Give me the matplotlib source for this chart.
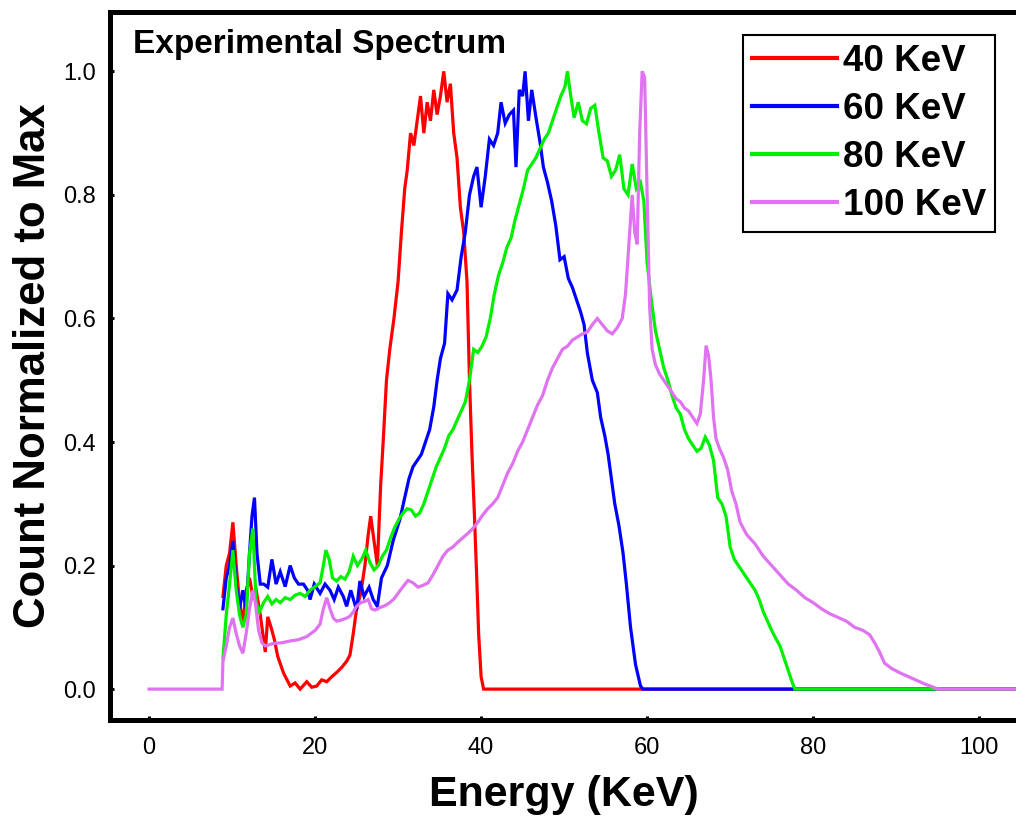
import matplotlib
matplotlib.use("Agg")
import matplotlib.pyplot as plt

plt.rcParams["font.family"] = ["Liberation Sans", "DejaVu Sans"]

# 40 keV tube spectrum
energy_40 = [8.9, 9.3, 9.7, 10.1, 10.5, 10.9, 11.3, 11.7, 12.1, 12.5, 12.9, 13.4,
             13.7, 14.0, 14.3, 14.7, 15.1, 15.5, 16.2, 17.0, 17.6, 18.2, 19.0, 19.6,
             20.2, 20.8, 21.4, 22.0, 22.6, 23.2, 23.8, 24.2, 24.6, 25.0, 25.5, 26.0,
             26.4, 26.7, 27.1, 27.5, 27.9, 28.2, 28.6, 29.0, 29.5, 30.0, 30.4, 30.8,
             31.1, 31.5, 31.9, 32.3, 32.7, 33.1, 33.5, 33.9, 34.3, 34.7, 35.1, 35.5,
             35.9, 36.3, 36.7, 37.1, 37.5, 37.9, 38.3, 38.6, 38.9, 39.2, 39.5, 39.7,
             40.0, 40.3, 105.0]
count_40 = [0.15, 0.20, 0.22, 0.27, 0.20, 0.14, 0.107, 0.16, 0.18, 0.15, 0.16, 0.12,
            0.09, 0.06, 0.117, 0.10, 0.08, 0.053, 0.026, 0.005, 0.01, 0.0, 0.012, 0.003,
            0.005, 0.015, 0.012, 0.02, 0.027, 0.035, 0.045, 0.055, 0.09, 0.13, 0.155, 0.20,
            0.25, 0.28, 0.24, 0.20, 0.33, 0.40, 0.50, 0.55, 0.60, 0.66, 0.74, 0.81,
            0.84, 0.90, 0.88, 0.92, 0.96, 0.90, 0.95, 0.92, 0.97, 0.93, 0.96, 1.0,
            0.95, 0.98, 0.90, 0.86, 0.78, 0.74, 0.66, 0.50, 0.38, 0.28, 0.17, 0.09,
            0.02, 0.0, 0.0]

# 60 keV tube spectrum
energy_60 = [8.9, 9.3, 9.7, 10.1, 10.5, 10.9, 11.3, 11.7, 12.1, 12.4, 12.7, 13.0,
             13.4, 13.8, 14.3, 14.8, 15.3, 15.8, 16.4, 17.0, 17.5, 18.0, 18.6, 19.1,
             19.4, 19.9, 20.6, 21.2, 21.8, 22.3, 22.8, 23.4, 23.8, 24.3, 25.0, 25.4,
             25.9, 26.5, 27.0, 27.5, 28.0, 28.7, 29.4, 30.2, 30.8, 31.3, 31.8, 32.3,
             32.8, 33.3, 33.8, 34.3, 34.7, 35.1, 35.6, 36.0, 36.5, 37.1, 37.6, 38.1,
             38.6, 39.1, 39.5, 40.0, 40.5, 41.0, 41.5, 42.0, 42.4, 42.9, 43.4, 43.9,
             44.2, 44.6, 45.0, 45.3, 45.7, 46.1, 46.6, 47.1, 47.5, 48.0, 48.5, 49.0,
             49.5, 50.0, 50.5, 51.0, 51.5, 52.0, 52.4, 52.8, 53.4, 54.0, 54.4, 54.9,
             55.3, 55.7, 56.1, 56.6, 57.1, 57.5, 58.0, 58.6, 59.2, 59.5, 105.0]
count_60 = [0.13, 0.18, 0.20, 0.24, 0.17, 0.13, 0.16, 0.13, 0.22, 0.28, 0.31, 0.22,
            0.17, 0.17, 0.165, 0.21, 0.17, 0.19, 0.166, 0.20, 0.18, 0.17, 0.17, 0.16,
            0.145, 0.17, 0.155, 0.17, 0.16, 0.145, 0.165, 0.15, 0.134, 0.16, 0.128, 0.175,
            0.15, 0.165, 0.145, 0.134, 0.18, 0.20, 0.24, 0.274, 0.31, 0.34, 0.36, 0.37,
            0.38, 0.40, 0.42, 0.457, 0.50, 0.535, 0.56, 0.64, 0.63, 0.646, 0.70, 0.74,
            0.80, 0.83, 0.845, 0.78, 0.83, 0.89, 0.88, 0.90, 0.95, 0.916, 0.93, 0.937,
            0.845, 0.97, 0.96, 1.0, 0.92, 0.97, 0.926, 0.885, 0.845, 0.82, 0.79, 0.75,
            0.695, 0.70, 0.665, 0.65, 0.63, 0.61, 0.59, 0.544, 0.50, 0.48, 0.44, 0.41,
            0.38, 0.34, 0.30, 0.265, 0.22, 0.17, 0.10, 0.04, 0.005, 0.0, 0.0]

# 80 keV tube spectrum
energy_80 = [8.9, 9.3, 9.7, 10.1, 10.5, 10.9, 11.3, 11.7, 12.1, 12.5, 12.9, 13.3,
             13.8, 14.3, 14.8, 15.3, 15.8, 16.4, 17.0, 17.6, 18.2, 18.8, 19.4, 20.0,
             20.6, 21.0, 21.3, 21.7, 22.1, 22.6, 23.1, 23.6, 24.1, 24.6, 25.1, 25.6,
             26.1, 26.6, 27.1, 27.6, 28.1, 28.6, 29.1, 29.6, 30.1, 30.6, 31.1, 31.6,
             32.1, 32.6, 33.1, 33.6, 34.1, 34.6, 35.1, 35.6, 36.1, 36.6, 37.1, 37.6,
             38.1, 38.6, 39.1, 39.6, 40.1, 40.6, 41.1, 41.6, 42.1, 42.6, 43.1, 43.6,
             44.1, 44.6, 45.1, 45.6, 46.1, 46.6, 47.1, 47.6, 48.1, 48.6, 49.1, 49.6,
             50.1, 50.4, 50.8, 51.2, 51.7, 52.2, 52.7, 53.2, 53.7, 54.2, 54.7, 55.2,
             55.7, 56.2, 56.7, 57.2, 57.7, 58.2, 58.7, 59.2, 59.6, 60.0, 60.5, 61.0,
             61.5, 62.0, 62.5, 63.0, 63.5, 64.0, 64.5, 65.0, 65.5, 66.0, 66.5, 67.0,
             67.5, 68.0, 68.5, 69.0, 69.5, 70.0, 70.5, 71.0, 71.5, 72.0, 72.5, 73.0,
             73.5, 74.0, 74.5, 75.0, 75.5, 76.0, 76.5, 77.0, 77.5, 77.8, 105.0]
count_80 = [0.05, 0.12, 0.17, 0.225, 0.16, 0.12, 0.10, 0.12, 0.22, 0.26, 0.14, 0.125,
            0.14, 0.15, 0.138, 0.145, 0.14, 0.148, 0.145, 0.152, 0.155, 0.15, 0.16, 0.166,
            0.172, 0.20, 0.225, 0.21, 0.18, 0.175, 0.182, 0.178, 0.19, 0.215, 0.20, 0.21,
            0.225, 0.205, 0.193, 0.20, 0.215, 0.225, 0.245, 0.262, 0.275, 0.285, 0.292, 0.29,
            0.28, 0.285, 0.30, 0.32, 0.34, 0.36, 0.375, 0.39, 0.41, 0.42, 0.435, 0.45,
            0.465, 0.50, 0.55, 0.545, 0.555, 0.57, 0.60, 0.64, 0.67, 0.69, 0.715, 0.73,
            0.76, 0.785, 0.81, 0.84, 0.85, 0.86, 0.875, 0.89, 0.90, 0.92, 0.94, 0.96,
            0.975, 1.0, 0.96, 0.925, 0.95, 0.92, 0.915, 0.94, 0.945, 0.90, 0.86, 0.855,
            0.83, 0.84, 0.865, 0.81, 0.80, 0.85, 0.81, 0.82, 0.79, 0.69, 0.63, 0.58,
            0.55, 0.52, 0.50, 0.475, 0.455, 0.445, 0.42, 0.405, 0.395, 0.385, 0.39, 0.408,
            0.395, 0.37, 0.31, 0.30, 0.28, 0.23, 0.21, 0.20, 0.19, 0.18, 0.17, 0.16,
            0.145, 0.125, 0.11, 0.095, 0.082, 0.07, 0.05, 0.03, 0.01, 0.0, 0.0]

# 100 keV tube spectrum
energy_100 = [0.0, 8.8, 8.9, 9.3, 9.7, 10.1, 10.5, 10.9, 11.3, 11.7, 12.1, 12.5,
              12.8, 13.2, 13.6, 14.0, 15.0, 16.0, 17.0, 18.0, 19.0, 19.5, 20.0, 20.6,
              21.0, 21.4, 21.8, 22.2, 22.6, 23.2, 23.8, 24.2, 24.6, 25.0, 25.5, 26.0,
              26.4, 26.8, 27.2, 27.8, 28.4, 29.0, 29.5, 30.0, 30.6, 31.2, 31.8, 32.4,
              33.0, 33.6, 34.2, 34.8, 35.4, 36.0, 36.6, 37.2, 37.8, 38.4, 39.0, 39.6,
              40.2, 40.8, 41.4, 42.0, 42.6, 43.2, 43.8, 44.4, 45.0, 45.6, 46.2, 46.8,
              47.4, 48.0, 48.6, 49.2, 49.8, 50.4, 51.0, 51.6, 52.2, 52.8, 53.4, 54.0,
              54.6, 55.2, 55.8, 56.4, 57.0, 57.4, 57.8, 58.2, 58.5, 58.8, 59.1, 59.4,
              59.7, 60.0, 60.3, 60.6, 61.0, 61.5, 62.0, 62.5, 63.0, 63.5, 64.0, 64.5,
              65.0, 65.5, 66.0, 66.4, 66.8, 67.1, 67.4, 67.7, 68.0, 68.3, 68.7, 69.2,
              69.7, 70.2, 70.7, 71.2, 72.0, 73.0, 74.0, 75.0, 76.0, 77.0, 78.0, 79.0,
              80.0, 81.0, 82.0, 83.0, 84.0, 85.0, 86.0, 86.8, 87.4, 88.0, 88.6, 89.5,
              90.5, 91.5, 92.5, 93.5, 94.5, 95.0, 105.0]
count_100 = [0.0, 0.0, 0.045, 0.07, 0.10, 0.115, 0.09, 0.07, 0.058, 0.09, 0.13, 0.16,
             0.14, 0.095, 0.075, 0.07, 0.074, 0.075, 0.078, 0.08, 0.085, 0.09, 0.095, 0.105,
             0.13, 0.148, 0.13, 0.115, 0.11, 0.112, 0.115, 0.118, 0.125, 0.134, 0.14, 0.142,
             0.145, 0.13, 0.128, 0.132, 0.135, 0.14, 0.146, 0.155, 0.166, 0.176, 0.172, 0.165,
             0.168, 0.172, 0.185, 0.20, 0.215, 0.225, 0.23, 0.238, 0.245, 0.252, 0.26, 0.27,
             0.282, 0.292, 0.30, 0.31, 0.33, 0.35, 0.365, 0.385, 0.40, 0.42, 0.44, 0.46,
             0.475, 0.50, 0.52, 0.535, 0.55, 0.555, 0.565, 0.57, 0.575, 0.578, 0.59, 0.60,
             0.59, 0.58, 0.575, 0.585, 0.60, 0.64, 0.72, 0.80, 0.74, 0.72, 0.90, 1.0,
             0.99, 0.80, 0.62, 0.55, 0.525, 0.51, 0.50, 0.49, 0.48, 0.47, 0.465, 0.455,
             0.45, 0.44, 0.43, 0.445, 0.50, 0.556, 0.54, 0.50, 0.44, 0.405, 0.39, 0.375,
             0.355, 0.32, 0.30, 0.27, 0.25, 0.235, 0.215, 0.20, 0.185, 0.17, 0.16, 0.148,
             0.14, 0.13, 0.122, 0.116, 0.11, 0.10, 0.095, 0.088, 0.075, 0.06, 0.042, 0.033,
             0.026, 0.02, 0.014, 0.008, 0.003, 0.0, 0.0]

labels = ["40 KeV", "60 KeV", "80 KeV", "100 KeV"]
colors = ["#ff0000", "#0000ff", "#00f000", "#e073f0"]

fig = plt.figure(figsize=(10.16, 8.18), dpi=100)
# right edge of the frame runs past the figure border
ax = fig.add_axes([0.1083, 0.1198, 0.9045, 0.8655])

series = [(energy_40, count_40), (energy_60, count_60),
          (energy_80, count_80), (energy_100, count_100)]
for (e, c), lab, col in zip(series, labels, colors):
    ax.plot(e, c, color=col, lw=2.3, label=lab, solid_joinstyle="miter")

ax.set_xlim(-4.7, 106)
ax.set_ylim(-0.05, 1.096)
ax.set_xticks([0, 20, 40, 60, 80, 100])
ax.set_yticks([0.0, 0.2, 0.4, 0.6, 0.8, 1.0])
ax.set_yticklabels(["0.0", "0.2", "0.4", "0.6", "0.8", "1.0"])

for side in ["left", "bottom", "top", "right"]:
    ax.spines[side].set_linewidth(3.6)
ax.tick_params(direction="in", length=3, width=2.2, labelsize=17,
               colors="black", pad=10)
ax.tick_params(axis="x", pad=12)

ax.set_xlabel("Energy (KeV)", fontsize=31, fontweight="bold", labelpad=12)
ax.xaxis.label.set_x(0.494)
ax.set_ylabel("Count Normalized to Max", fontsize=31.5, fontweight="bold", labelpad=7)

ax.text(0.025, 0.976, "Experimental Spectrum", transform=ax.transAxes,
        fontsize=24, fontweight="bold", va="top", ha="left")

leg = ax.legend(loc="upper right", bbox_to_anchor=(995 / 1016, 1 - 35 / 818),
                bbox_transform=fig.transFigure,
                prop={"weight": "bold", "size": 26.5},
                handlelength=2.3, handletextpad=0.15, labelspacing=0.35,
                borderpad=0.25, borderaxespad=0, fancybox=False,
                framealpha=1, edgecolor="black")
leg.get_frame().set_linewidth(1.5)
for line in leg.get_lines():
    line.set_linewidth(3)

fig.savefig("out.png", dpi=100)
